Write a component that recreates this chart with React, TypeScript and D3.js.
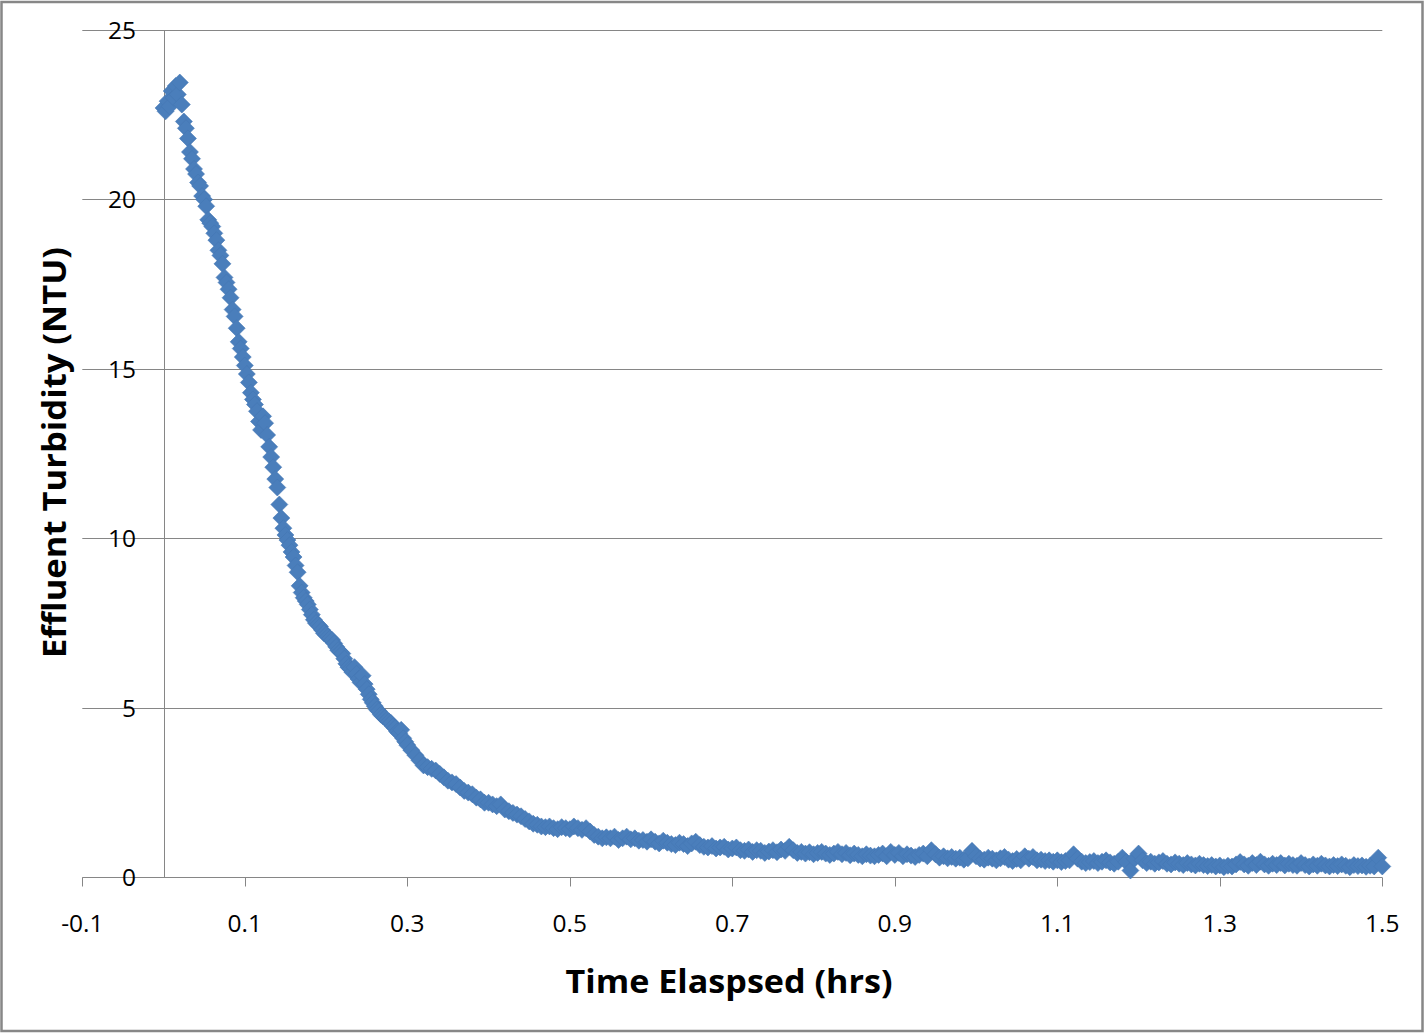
import React from "react";
import * as d3 from "d3";

const TIME_HRS: number[] = [
  0, 0.0025, 0.005, 0.0075, 0.01, 0.0125, 0.015, 0.0175, 0.02, 0.0225,
  0.025, 0.0275, 0.03, 0.0325, 0.035, 0.0375, 0.04, 0.0425, 0.045, 0.0475,
  0.05, 0.0525, 0.055, 0.0575, 0.06, 0.0625, 0.065, 0.0675, 0.07, 0.0725,
  0.075, 0.0775, 0.08, 0.0825, 0.085, 0.0875, 0.09, 0.0925, 0.095, 0.0975,
  0.1, 0.1025, 0.105, 0.1075, 0.11, 0.1125, 0.115, 0.1175, 0.12, 0.1225,
  0.125, 0.1275, 0.13, 0.1325, 0.135, 0.1375, 0.14, 0.1425, 0.145, 0.1475,
  0.15, 0.1525, 0.155, 0.1575, 0.16, 0.1625, 0.165, 0.1675, 0.17, 0.1725,
  0.175, 0.1775, 0.18, 0.1825, 0.185, 0.1875, 0.19, 0.1925, 0.195, 0.1975,
  0.2, 0.2025, 0.205, 0.2075, 0.21, 0.2125, 0.215, 0.2175, 0.22, 0.2225,
  0.225, 0.2275, 0.23, 0.2325, 0.235, 0.2375, 0.24, 0.2425, 0.245, 0.2475,
  0.25, 0.2525, 0.255, 0.2575, 0.26, 0.2625, 0.265, 0.2675, 0.27, 0.2725,
  0.275, 0.2775, 0.28, 0.2825, 0.285, 0.2875, 0.29, 0.2925, 0.295, 0.2975,
  0.3,
  0.305, 0.31, 0.315, 0.32, 0.325, 0.33, 0.335, 0.34, 0.345, 0.35,
  0.355, 0.36, 0.365, 0.37, 0.375, 0.38, 0.385, 0.39, 0.395, 0.4,
  0.405, 0.41, 0.415, 0.42, 0.425, 0.43, 0.435, 0.44, 0.445, 0.45,
  0.455, 0.46, 0.465, 0.47, 0.475, 0.48, 0.485, 0.49, 0.495, 0.5,
  0.505, 0.51, 0.515, 0.52, 0.525, 0.53, 0.535, 0.54, 0.545, 0.55,
  0.555, 0.56, 0.565, 0.57, 0.575, 0.58, 0.585, 0.59, 0.595, 0.6,
  0.605, 0.61, 0.615, 0.62, 0.625, 0.63, 0.635, 0.64, 0.645, 0.65,
  0.655, 0.66, 0.665, 0.67, 0.675, 0.68, 0.685, 0.69, 0.695, 0.7,
  0.705, 0.71, 0.715, 0.72, 0.725, 0.73, 0.735, 0.74, 0.745, 0.75,
  0.755, 0.76, 0.765, 0.77, 0.775, 0.78, 0.785, 0.79, 0.795, 0.8,
  0.805, 0.81, 0.815, 0.82, 0.825, 0.83, 0.835, 0.84, 0.845, 0.85,
  0.855, 0.86, 0.865, 0.87, 0.875, 0.88, 0.885, 0.89, 0.895, 0.9,
  0.905, 0.91, 0.915, 0.92, 0.925, 0.93, 0.935, 0.94, 0.945, 0.95,
  0.955, 0.96, 0.965, 0.97, 0.975, 0.98, 0.985, 0.99, 0.995, 1.0,
  1.005, 1.01, 1.015, 1.02, 1.025, 1.03, 1.035, 1.04, 1.045, 1.05,
  1.055, 1.06, 1.065, 1.07, 1.075, 1.08, 1.085, 1.09, 1.095, 1.1,
  1.105, 1.11, 1.115, 1.12, 1.125, 1.13, 1.135, 1.14, 1.145, 1.15,
  1.155, 1.16, 1.165, 1.17, 1.175, 1.18, 1.185, 1.19, 1.195, 1.2,
  1.205, 1.21, 1.215, 1.22, 1.225, 1.23, 1.235, 1.24, 1.245, 1.25,
  1.255, 1.26, 1.265, 1.27, 1.275, 1.28, 1.285, 1.29, 1.295, 1.3,
  1.305, 1.31, 1.315, 1.32, 1.325, 1.33, 1.335, 1.34, 1.345, 1.35,
  1.355, 1.36, 1.365, 1.37, 1.375, 1.38, 1.385, 1.39, 1.395, 1.4,
  1.405, 1.41, 1.415, 1.42, 1.425, 1.43, 1.435, 1.44, 1.445, 1.45,
  1.455, 1.46, 1.465, 1.47, 1.475, 1.48, 1.485, 1.49, 1.495, 1.5,
];

const TURBIDITY_NTU: number[] = [
  22.7, 22.6, 22.9, 22.75, 23.2, 23.0, 23.35, 23.1, 23.45, 22.8,
  22.3, 22.1, 21.8, 21.4, 21.2, 20.9, 20.75, 20.5, 20.4, 20.1,
  20.0, 19.8, 19.4, 19.3, 19.2, 19.0, 18.8, 18.5, 18.35, 18.1,
  17.7, 17.55, 17.35, 17.1, 16.75, 16.55, 16.2, 15.8, 15.6, 15.35,
  15.1, 14.85, 14.6, 14.3, 14.1, 13.95, 13.75, 13.45, 13.2, 13.6,
  13.4, 13.05, 12.7, 12.4, 12.1, 11.75, 11.5, 11.0, 10.6, 10.3,
  10.1, 9.95, 9.8, 9.6, 9.45, 9.2, 9.0, 8.6, 8.4, 8.25,
  8.15, 8.05, 7.9, 7.75, 7.6, 7.5, 7.45, 7.4, 7.3, 7.2,
  7.15, 7.1, 7.05, 7.0, 6.9, 6.8, 6.7, 6.65, 6.6, 6.45,
  6.3, 6.2, 6.15, 6.05, 6.2, 6.0, 5.85, 5.75, 5.95, 5.7,
  5.55, 5.4, 5.25, 5.15, 5.05, 4.95, 4.9, 4.8, 4.75, 4.7,
  4.65, 4.6, 4.55, 4.45, 4.4, 4.3, 4.25, 4.35, 4.1, 4.0,
  3.9,
  3.75, 3.6, 3.45, 3.3, 3.25, 3.2, 3.15, 3.05, 2.95, 2.85,
  2.8, 2.75, 2.65, 2.55, 2.5, 2.45, 2.35, 2.3, 2.2, 2.2,
  2.15, 2.1, 2.15, 2.0, 1.95, 1.9, 1.85, 1.8, 1.72, 1.65,
  1.58, 1.55, 1.5, 1.48, 1.5, 1.45, 1.42, 1.48, 1.45, 1.42,
  1.5, 1.45, 1.4, 1.45, 1.35, 1.25, 1.2, 1.15, 1.18, 1.15,
  1.2, 1.1, 1.15, 1.2, 1.12, 1.15, 1.08, 1.1, 1.05, 1.12,
  1.05, 1.0, 1.08, 1.02, 0.98, 0.95, 1.02, 0.98, 0.92, 1.0,
  1.05, 0.95, 0.9, 0.88, 0.92, 0.85, 0.88, 0.9, 0.82, 0.85,
  0.88, 0.8, 0.78, 0.82, 0.75, 0.8, 0.78, 0.72, 0.76, 0.8,
  0.74, 0.82, 0.78, 0.9, 0.8, 0.72, 0.75, 0.7, 0.74, 0.68,
  0.72, 0.75, 0.7, 0.66, 0.7, 0.75, 0.68, 0.72, 0.65, 0.7,
  0.66, 0.62, 0.68, 0.64, 0.62, 0.66, 0.7, 0.62, 0.75, 0.66,
  0.72, 0.62, 0.68, 0.64, 0.6, 0.66, 0.7, 0.62, 0.8, 0.68,
  0.58, 0.62, 0.56, 0.6, 0.55, 0.58, 0.52, 0.56, 0.78, 0.62,
  0.55, 0.52, 0.58, 0.55, 0.5, 0.56, 0.6, 0.52, 0.48, 0.54,
  0.5, 0.62, 0.55, 0.6, 0.5, 0.52, 0.48, 0.5, 0.46, 0.5,
  0.45, 0.48, 0.5, 0.68, 0.55, 0.46, 0.42, 0.45, 0.48, 0.42,
  0.46, 0.5, 0.44, 0.4, 0.46, 0.58, 0.45, 0.2, 0.55, 0.7,
  0.5, 0.42, 0.46, 0.4, 0.44, 0.48, 0.4, 0.38, 0.44, 0.4,
  0.36, 0.42, 0.38, 0.35, 0.4, 0.36, 0.33, 0.36, 0.32, 0.35,
  0.3, 0.34, 0.32, 0.38, 0.45, 0.38, 0.34, 0.42, 0.36, 0.46,
  0.38, 0.34, 0.4, 0.36, 0.42, 0.35, 0.4, 0.36, 0.34, 0.42,
  0.36, 0.32, 0.38, 0.34, 0.4, 0.35, 0.32, 0.36, 0.33, 0.38,
  0.34, 0.3, 0.36, 0.33, 0.35, 0.31, 0.34, 0.32, 0.58, 0.32,
];

const X_TICKS: number[] = [-0.1, 0.1, 0.3, 0.5, 0.7, 0.9, 1.1, 1.3, 1.5];
const Y_TICKS: number[] = [0, 5, 10, 15, 20, 25];
const X_TITLE = "Time Elaspsed (hrs)";
const Y_TITLE = "Effluent Turbidity (NTU)";

const FONT = "'Open Sans', 'Liberation Sans', sans-serif";
const GRID = "#868686";

export default function App() {
  const W = 1426;
  const H = 1034;
  const x = d3.scaleLinear().domain([-0.1, 1.5]).range([82.3, 1382.3]);
  const y = d3.scaleLinear().domain([0, 25]).range([877.3, 30]);
  const crisp = (v: number) => Math.round(v) + 0.5;
  const r = 8.5;
  const diamond = `M0,${-r}L${r},0L0,${r}L${-r},0Z`;
  const points = TIME_HRS.map((t, i) => [t, TURBIDITY_NTU[i]] as [number, number]);
  const x0 = crisp(x(0));
  const yBase = crisp(y(0));
  const xLeft = x.range()[0];
  const xRight = x.range()[1];

  return (
    <svg
      width={W}
      height={H}
      style={{ position: "absolute", left: 0, top: 0, background: "#fff" }}
      fontFamily={FONT}
    >
      <rect x={0} y={0} width={W} height={H} fill="#fff" />
      <rect x={1.5} y={2} width={1421} height={1029} fill="none" stroke="#878787" strokeWidth={2.5} />

      {Y_TICKS.filter((v) => v > 0).map((v) => (
        <line key={"g" + v} x1={xLeft} x2={xRight} y1={crisp(y(v))} y2={crisp(y(v))} stroke={GRID} strokeWidth={1} />
      ))}

      <line x1={xLeft} x2={xRight} y1={yBase} y2={yBase} stroke={GRID} strokeWidth={1} />
      <line x1={x0} x2={x0} y1={crisp(y(25))} y2={yBase} stroke={GRID} strokeWidth={1} />

      {X_TICKS.map((t) => (
        <line key={"t" + t} x1={crisp(x(t))} x2={crisp(x(t))} y1={yBase} y2={yBase + 9} stroke={GRID} strokeWidth={1} />
      ))}

      {Y_TICKS.map((v) => (
        <text key={"yl" + v} x={136} y={y(v)} dy="0.36em" textAnchor="end" fontSize={24.5} fill="#000">
          {String(v)}
        </text>
      ))}

      {X_TICKS.map((t) => (
        <text key={"xl" + t} x={x(t)} y={932} textAnchor="middle" fontSize={24.5} fill="#000">
          {String(t)}
        </text>
      ))}

      <g>
        {points.map(([t, v], i) => (
          <path
            key={i}
            d={diamond}
            transform={`translate(${x(t)},${y(v)})`}
            fill="#4a7ebb"
            stroke="#4577b4"
            strokeWidth={0.6}
          />
        ))}
      </g>

      <text
        x={729}
        y={993}
        textAnchor="middle"
        fontSize={33}
        fontWeight="bold"
        fill="#000"
        textLength={327}
        lengthAdjust="spacingAndGlyphs"
      >
        {X_TITLE}
      </text>
      <text
        transform="translate(66,452.5) rotate(-90)"
        textAnchor="middle"
        fontSize={33}
        fontWeight="bold"
        fill="#000"
        textLength={411}
        lengthAdjust="spacingAndGlyphs"
      >
        {Y_TITLE}
      </text>
    </svg>
  );
}
